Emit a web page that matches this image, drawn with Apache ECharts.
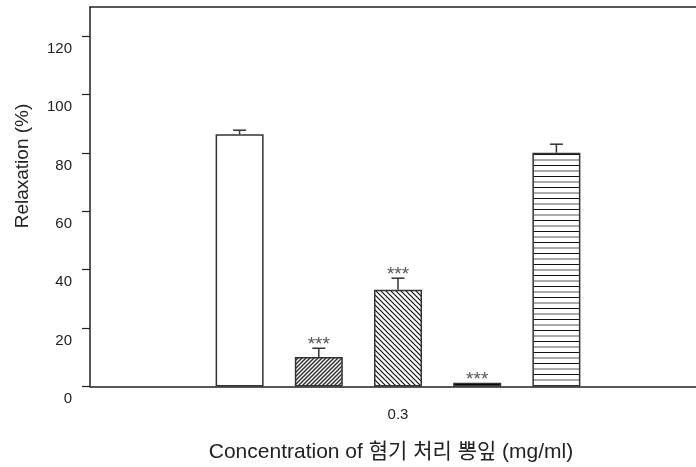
<!DOCTYPE html>
<html>
<head>
<meta charset="utf-8">
<script src="https://cdn.jsdelivr.net/npm/echarts@6/dist/echarts.min.js"></script>
<style>
  html, body { margin: 0; padding: 0; background: #fff; }
  #chart { width: 696px; height: 467px; }
</style>
</head>
<body>
<div id="chart"></div>
<script>
// Relaxation (%) at a single concentration, five treatment groups
const categories = ['0.3'];
const groups = ['Group 1', 'Group 2', 'Group 3', 'Group 4', 'Group 5'];
const relaxation = [86.4, 10.1, 33.1, 1.3, 80.1];
const sem = [1.4, 3.0, 4.0, 0, 2.9];
const significance = ['', '***', '***', '***', ''];
const yTicks = [0, 20, 40, 60, 80, 100, 120];

const FONT = "'Liberation Sans', Arial, 'Noto Sans CJK KR', sans-serif";
const INK = '#222';
const BAR_WIDTH = 48;
const BAR_GAP = '65%';

// Tiled fill patterns for the hatched bars
function tile(w, h, draw) {
  const c = document.createElement('canvas');
  c.width = w; c.height = h;
  const ctx = c.getContext('2d');
  ctx.fillStyle = '#fff';
  ctx.fillRect(0, 0, w, h);
  draw(ctx, w, h);
  return { image: c, repeat: 'repeat' };
}
function diagonal(size, width, color, rising) {
  return tile(size, size, (ctx, s) => {
    ctx.strokeStyle = color;
    ctx.lineWidth = width;
    ctx.beginPath();
    if (rising) {
      ctx.moveTo(-1, s + 1); ctx.lineTo(s + 1, -1);
      ctx.moveTo(-1, 1); ctx.lineTo(1, -1);
      ctx.moveTo(s - 1, s + 1); ctx.lineTo(s + 1, s - 1);
    } else {
      ctx.moveTo(-1, -1); ctx.lineTo(s + 1, s + 1);
      ctx.moveTo(-1, s - 1); ctx.lineTo(1, s + 1);
      ctx.moveTo(s - 1, -1); ctx.lineTo(s + 1, 1);
    }
    ctx.stroke();
  });
}
const horizontal = tile(4, 11, (ctx, w) => {
  ctx.fillStyle = '#111';
  ctx.fillRect(0, 0, w, 1);
  ctx.strokeStyle = '#555';
  ctx.lineWidth = 1;
  ctx.beginPath();
  ctx.moveTo(0, 6); ctx.lineTo(w, 6);
  ctx.stroke();
});

const fills = [
  '#ffffff',
  diagonal(4, 1.5, '#333', true),
  diagonal(5, 1.2, '#111', false),
  '#000000',
  horizontal
];

const chart = echarts.init(document.getElementById('chart'), null, { renderer: 'canvas' });

const barSeries = groups.map((name, i) => ({
  name,
  type: 'bar',
  barWidth: BAR_WIDTH,
  barGap: BAR_GAP,
  data: [relaxation[i]],
  itemStyle: { color: fills[i], borderColor: '#333', borderWidth: 1.5 },
  emphasis: { disabled: true },
  z: 2
}));

const errorSeries = {
  type: 'custom',
  data: relaxation.map((v, i) => [0, v, sem[i], i]),
  z: 3,
  silent: true,
  renderItem(params, api) {
    const idx = api.value(3);
    const layout = api.barLayout({ count: groups.length, barWidth: BAR_WIDTH, barGap: BAR_GAP });
    const base = api.coord([api.value(0), api.value(1)]);
    const top = api.coord([api.value(0), api.value(1) + api.value(2)]);
    const x = base[0] + layout[idx].offsetCenter;
    const children = [];
    if (api.value(2) > 0) {
      children.push({
        type: 'line',
        shape: { x1: x, y1: base[1], x2: x, y2: top[1] },
        style: { stroke: '#333', lineWidth: 1.5 }
      }, {
        type: 'line',
        shape: { x1: x - 6.5, y1: top[1], x2: x + 6.5, y2: top[1] },
        style: { stroke: '#333', lineWidth: 1.5 }
      });
    }
    if (significance[idx]) {
      children.push({
        type: 'text',
        x: x,
        y: top[1] - 3,
        style: {
          text: significance[idx],
          fill: '#555',
          font: '19px ' + FONT,
          textAlign: 'center',
          textVerticalAlign: 'middle'
        }
      });
    }
    return { type: 'group', children };
  }
};

chart.setOption({
  animation: false,
  backgroundColor: '#fff',
  grid: { left: 90, top: 7, width: 616, height: 379.5, containLabel: false, outerBoundsMode: 'none' },
  xAxis: [{
    type: 'category',
    data: categories,
    position: 'bottom',
    axisLine: { lineStyle: { color: INK, width: 1.5 } },
    axisTick: { alignWithLabel: true, length: 6, lineStyle: { color: INK, width: 1.2 } },
    axisLabel: { fontFamily: FONT, fontSize: 15, color: INK, margin: 21 },
    splitLine: { show: false }
  }, {
    type: 'category',
    data: categories,
    position: 'top',
    axisLine: { lineStyle: { color: INK, width: 1.5 } },
    axisTick: { show: false },
    axisLabel: { show: false },
    splitLine: { show: false }
  }],
  yAxis: {
    type: 'value',
    min: 0,
    max: 130,
    interval: 20,
    axisLine: { show: true, lineStyle: { color: INK, width: 1.5 } },
    axisTick: { show: true, inside: false, length: 8, customValues: yTicks, lineStyle: { color: INK, width: 1.2 } },
    axisLabel: {
      customValues: yTicks,
      fontFamily: FONT, fontSize: 15, color: INK,
      margin: 18,
      verticalAlign: 'top',
      lineHeight: 25
    },
    splitLine: { show: false }
  },
  graphic: [{
    type: 'text',
    x: 23, y: 166,
    rotation: Math.PI / 2,
    style: {
      text: 'Relaxation (%)',
      font: '19px ' + FONT,
      fill: INK,
      textAlign: 'center',
      textVerticalAlign: 'middle'
    }
  }, {
    type: 'text',
    x: 391, y: 452,
    style: {
      text: 'Concentration of 혐기 처리 뽕잎 (mg/ml)',
      font: '21px ' + FONT,
      fill: INK,
      textAlign: 'center',
      textVerticalAlign: 'middle'
    }
  }],
  series: [...barSeries, errorSeries]
});
</script>
</body>
</html>
